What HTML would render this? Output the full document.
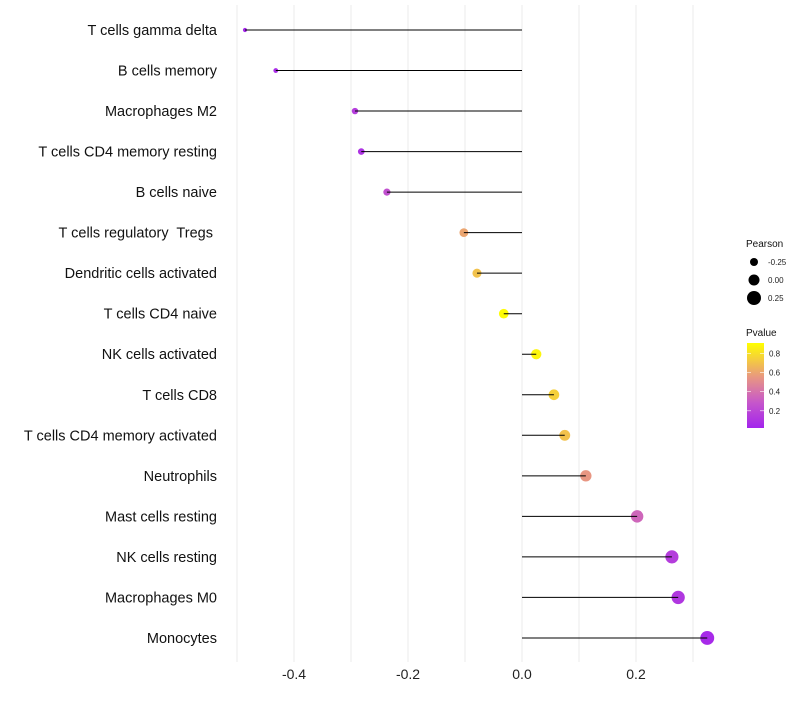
<!DOCTYPE html>
<html><head><meta charset="utf-8"><style>
body{margin:0;background:#fff;font-family:"Liberation Sans",sans-serif}
</style></head><body>
<svg id="c" width="800" height="700" xmlns="http://www.w3.org/2000/svg"></svg>
<script>
const categories=["T cells gamma delta","B cells memory","Macrophages M2","T cells CD4 memory resting","B cells naive","T cells regulatory  Tregs ","Dendritic cells activated","T cells CD4 naive","NK cells activated","T cells CD8","T cells CD4 memory activated","Neutrophils","Mast cells resting","NK cells resting","Macrophages M0","Monocytes"];
const pearson=[-0.486,-0.432,-0.293,-0.282,-0.237,-0.102,-0.079,-0.032,0.025,0.056,0.075,0.112,0.202,0.263,0.274,0.325];
const pvalue=[0.04,0.07,0.15,0.1,0.25,0.6,0.7,0.9,0.88,0.75,0.7,0.55,0.35,0.15,0.12,0.05];
const xTicks=[-0.4,-0.2,0.0,0.2];
const xTickLabels=["-0.4","-0.2","0.0","0.2"];
const sizeLegend=[-0.25,0,0.25];
const colorTicks=[0.2,0.4,0.6,0.8];

const NS="http://www.w3.org/2000/svg";
const svg=document.getElementById('c');
function el(t,a,p){const e=document.createElementNS(NS,t);for(const k in a)e.setAttribute(k,a[k]);(p||svg).appendChild(e);return e;}
const xs=v=>522+570*v;
const ys=i=>30+i*40.53;
const rs=v=>5+6*v;
function col(p){
  const stops=[[0,[160,32,240]],[0.3,[200,90,200]],[0.55,[232,150,130]],[0.91,[255,255,0]]];
  p=Math.max(0,Math.min(0.91,p));
  for(let i=0;i<stops.length-1;i++){const[a,ca]=stops[i],[b,cb]=stops[i+1];
    if(p<=b){const t=(p-a)/(b-a);return `rgb(${ca.map((c,j)=>Math.round(c+(cb[j]-c)*t)).join(',')})`;}}
  return 'rgb(255,255,0)';
}
for(let k=-5;k<=3;k++){
  const v=k/10;
  const g=el('line',{x1:xs(v),x2:xs(v),y1:5,y2:662,stroke:'#ebebeb','stroke-width':1});
  
  
}
xTicks.forEach((v,i)=>{
  const t=el('text',{x:xs(v),y:679,'text-anchor':'middle','font-size':14,fill:'#222'});
  t.textContent=xTickLabels[i];
  
  
});
categories.forEach((c,i)=>{
  const t=el('text',{x:217,y:ys(i)+5,'text-anchor':'end','font-size':14.5,fill:'#111',style:'white-space:pre'});
  t.textContent=c;
  
  
  const d=el('circle',{cx:xs(pearson[i]),cy:ys(i),r:rs(pearson[i]),fill:col(pvalue[i])});
  
  
  const l=el('line',{x1:xs(0),x2:xs(pearson[i]),y1:ys(i),y2:ys(i),stroke:'#000','stroke-width':1});
  
  
});
const lt=el('text',{x:746,y:247,'font-size':10,fill:'#111'});lt.textContent='Pearson';


sizeLegend.forEach((v,i)=>{
  const y=262+i*18;
  const c=el('circle',{cx:754,cy:y,r:rs(v)+0.5,fill:'#000'});
  
  
  const t=el('text',{x:768,y:y+3,'font-size':8,fill:'#222'});t.textContent=v.toFixed(2);
  
  
});
const ct=el('text',{x:746,y:336,'font-size':10,fill:'#111'});ct.textContent='Pvalue';


const defs=el('defs',{});
const gr=el('linearGradient',{id:'g',x1:0,y1:1,x2:0,y2:0},defs);
for(let k=0;k<=10;k++){el('stop',{offset:k/10,'stop-color':col(0.02+0.89*k/10)},gr);}
const bar=el('rect',{x:747,y:343,width:17,height:85,fill:'url(#g)'});


const cy=p=>428-(p-0.02)/0.89*85;
colorTicks.forEach(p=>{
  el('line',{x1:747,x2:751,y1:cy(p),y2:cy(p),stroke:'#fff','stroke-width':0.6});
  el('line',{x1:760,x2:764,y1:cy(p),y2:cy(p),stroke:'#fff','stroke-width':0.6});
  const t=el('text',{x:769,y:cy(p)+3,'font-size':8,fill:'#222'});t.textContent=p.toFixed(1);
  
  
});
</script>
</body></html>
